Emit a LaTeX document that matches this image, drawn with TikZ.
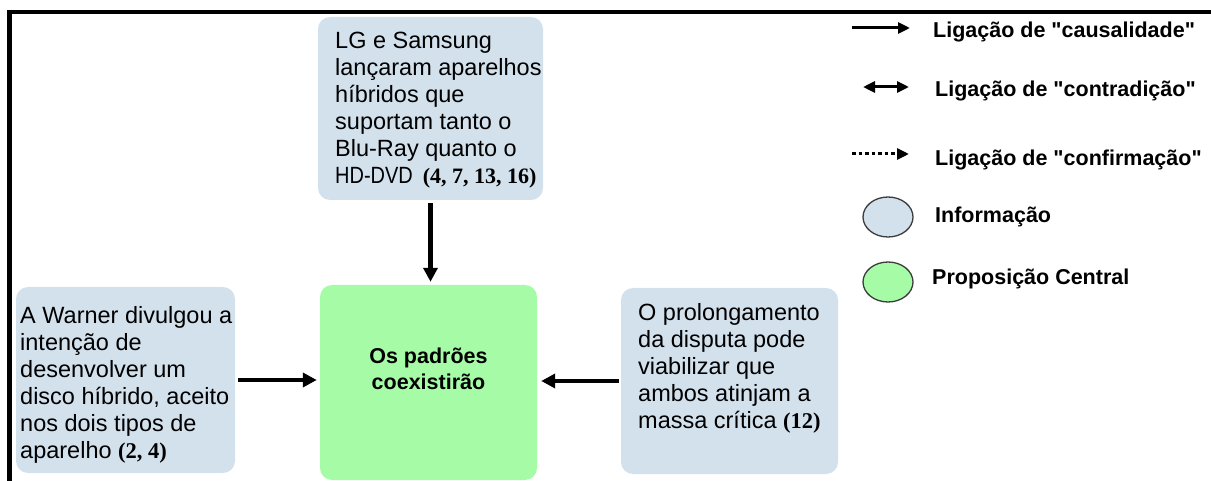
\documentclass[tikz,border=0pt]{standalone}
\usepackage{fontspec}
\setmainfont{Liberation Sans}
\newfontfamily\numfont{Liberation Serif}
\newfontfamily\legfont{Liberation Sans}
\usetikzlibrary{arrows.meta,shapes.geometric}
\definecolor{infoblue}{HTML}{D3E1ED}
\definecolor{propgreen}{HTML}{A6FBA6}
\definecolor{ellline}{HTML}{3C3C3C}
\newcommand{\refnum}[1]{{\numfont\bfseries\fontsize{22.5}{27}\selectfont #1}}
\begin{document}
\begin{tikzpicture}[x=1pt,y=-1pt,
  infobox/.style={fill=infoblue, rounded corners=12pt, inner sep=0pt},
  centralbox/.style={fill=propgreen, rounded corners=12pt, inner sep=0pt},
  boxtext/.style={anchor=north west, inner sep=0pt, align=left, font=\fontsize{23.5}{27}\selectfont},
  centraltext/.style={anchor=north, inner sep=0pt, align=center, font=\bfseries\fontsize{21.5}{26}\selectfont},
  legtext/.style={anchor=base west, inner sep=0pt, font=\legfont\bfseries\fontsize{21.5}{26}\selectfont},
  legell/.style={ellipse, draw=ellline, line width=1.3pt, minimum width=50pt, minimum height=40pt, inner sep=0pt},
  mainarrow/.style={line width=4.8pt, -{Triangle[length=14pt,width=14pt]}},
  legarrow/.style={line width=3pt, -{Triangle[length=12pt,width=11pt]}},
  legdouble/.style={line width=3pt, {Triangle[length=12pt,width=11pt]}-{Triangle[length=12pt,width=11pt]}},
  legdotted/.style={line width=3pt, dash pattern=on 3.5pt off 3pt, -{Triangle[length=12pt,width=11pt]}},
  frameline/.style={line width=4.3pt}
]
\useasboundingbox (0,0) rectangle (1211,481);
% frame
\coordinate (fbl) at (9.5,481);
\coordinate (ftl) at (9.5,12);
\coordinate (ftr) at (1211,12);
\draw[frameline] (fbl) -- (ftl) -- (ftr);

% boxes
\node[infobox, minimum width=225pt, minimum height=183pt] (lg) at (430.5,108.5) {};
\node[infobox, minimum width=219pt, minimum height=186pt] (warner) at (125.5,380) {};
\node[infobox, minimum width=217pt, minimum height=186pt] (prolong) at (729.5,381) {};
\node[centralbox, minimum width=217pt, minimum height=195pt] (central) at (428.5,382.5) {};

% texts
\node[boxtext] (lgtxt) at (335,32.2) {LG e Samsung\\lançaram aparelhos\\híbridos que\\suportam tanto o\\Blu-Ray quanto o\\\scalebox{0.85}[1]{HD-DVD}\hspace{10pt}{\numfont\bfseries\fontsize{22}{27}\selectfont (4, 7, 13, 16)}};
\node[boxtext] (warnertxt) at (20,306.5) {A Warner divulgou a\\intenção de\\desenvolver um\\disco híbrido, aceito\\nos dois tipos de\\aparelho \refnum{(2, 4)}};
\node[boxtext] (prolongtxt) at (638,303.6) {O prolongamento\\da disputa pode\\viabilizar que\\ambos atinjam a\\massa crítica \refnum{(12)}};
\node[centraltext] (centraltxt) at (428.5,347.5) {Os padrões\\coexistirão};

% connectors
\draw[mainarrow, shorten <=3pt, shorten >=3pt] (lg.south) -- (lg.south |- central.north);
\draw[mainarrow, shorten <=3pt, shorten >=3pt] (warner.east) -- (warner.east -| central.west);
\draw[mainarrow, shorten <=2pt, shorten >=4pt] (prolong.west) -- (prolong.west -| central.east);

% legend
\coordinate (l1s) at (852,28);
\coordinate (l1e) at (910,28);
\coordinate (l2s) at (863,87);
\coordinate (l2e) at (909,87);
\coordinate (l3s) at (852,154);
\coordinate (l3e) at (909,154);
\draw[legarrow] (l1s) -- (l1e);
\draw[legdouble] (l2s) -- (l2e);
\draw[legdotted] (l3s) -- (l3e);
\node[legell, fill=infoblue] (e1) at (888,217) {};
\node[legell, fill=propgreen] (e2) at (888,282) {};
\node[legtext] (t1) at (933,38) {Ligação de "causalidade"};
\node[legtext] (t2) at (935,97) {Ligação de "contradição"};
\node[legtext] (t3) at (935,166) {Ligação de "confirmação"};
\node[legtext] (t4) at (935,223) {Informação};
\node[legtext] (t5) at (932,285) {Proposição Central};
\end{tikzpicture}
\end{document}
